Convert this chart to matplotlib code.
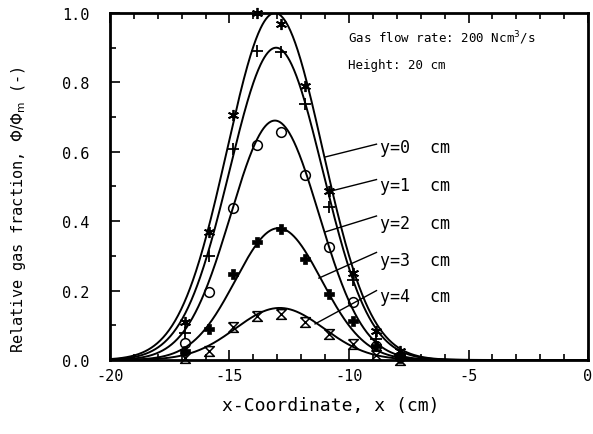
import numpy as np
import matplotlib
matplotlib.use("Agg")
import matplotlib.pyplot as plt
from matplotlib.path import Path
from matplotlib.ticker import MultipleLocator

plt.rcParams['font.family'] = ['DejaVu Sans Mono', 'DejaVu Sans']

# ---- data ----
x_pts = [-16.85, -15.85, -14.85, -13.85, -12.85, -11.85, -10.85, -9.85, -8.85, -7.85]
y0_pts = [0.11, 0.368, 0.707, 1.0, 0.968, 0.79, 0.488, 0.25, 0.085, 0.027]
y1_pts = [0.078, 0.30, 0.608, 0.891, 0.888, 0.738, 0.44, 0.23, 0.06, 0.015]
y2_pts = [0.048, 0.197, 0.437, 0.62, 0.657, 0.533, 0.325, 0.168, 0.04, 0.01]
y3_pts = [0.027, 0.089, 0.248, 0.339, 0.378, 0.291, 0.19, 0.113, 0.04, 0.005]
y4_pts = [0.005, 0.027, 0.094, 0.128, 0.133, 0.11, 0.075, 0.046, 0.015, 0.0]

# fitted curves (Gaussian): peak, centre, width
curve_peak = [1.0, 0.90, 0.69, 0.38, 0.15]
curve_center = [-13.1, -13.05, -13.1, -12.95, -12.9]
curve_width = [2.0, 1.95, 1.85, 1.8, 1.85]

labels = ["y=0  cm", "y=1  cm", "y=2  cm", "y=3  cm", "y=4  cm"]
label_y = [0.614, 0.504, 0.395, 0.288, 0.184]
leader_start_y = [0.622, 0.52, 0.415, 0.31, 0.2]
leader_end_x = [-11.0, -10.92, -11.0, -11.26, -11.42]
leader_end_y = [0.585, 0.484, 0.369, 0.236, 0.104]

# ---- figure ----
fig = plt.figure(figsize=(5.93, 4.35), dpi=100)
ax = fig.add_axes([110/593, 1-361/435, 478/593, 347/435])

hourglass = Path([(-1, 1), (1, 1), (-1, -1), (1, -1), (-1, 1)],
                 [Path.MOVETO, Path.LINETO, Path.LINETO, Path.LINETO, Path.LINETO])

series = [y0_pts, y1_pts, y2_pts, y3_pts, y4_pts]
styles = [
    dict(marker=(6, 2, 0), ms=8, mew=1.3, mfc='none', mec='black'),
    dict(marker='+', ms=8, mew=1.3, mec='black'),
    dict(marker='o', ms=7, mew=1.1, mfc='none', mec='black'),
    dict(marker='P', ms=7, mew=0.5, mfc='black', mec='black'),
    dict(marker=hourglass, ms=7, mew=1.1, mfc='none', mec='black'),
]

xc = np.linspace(-20, 0, 801)
for pk, c, w in zip(curve_peak, curve_center, curve_width):
    ax.plot(xc, pk*np.exp(-0.5*((xc-c)/w)**2), color='black', lw=1.4, clip_on=True)

for ys, st in zip(series, styles):
    ax.plot(x_pts, ys, ls='none', clip_on=False, **st)

for lab, ly, sy, ex, ey in zip(labels, label_y, leader_start_y, leader_end_x, leader_end_y):
    ax.plot([-8.85, ex], [sy, ey], color='black', lw=1.0)
    ax.text(-8.7, ly, lab, fontsize=12, ha='left', va='center')

ax.text(-10.05, 0.93, "Gas flow rate: 200 Ncm$^3$/s", fontsize=9, ha='left', va='center')
ax.text(-10.05, 0.853, "Height: 20 cm", fontsize=9, ha='left', va='center')

ax.set_xlim(-20, 0)
ax.set_ylim(0, 1.0)
ax.xaxis.set_minor_locator(MultipleLocator(1))
ax.yaxis.set_minor_locator(MultipleLocator(0.1))
ax.tick_params(which='both', direction='in', top=True, right=False, width=1.2)
ax.tick_params(which='major', length=7, labelsize=11)
ax.tick_params(which='minor', length=4)
ax.set_xticks([-20, -15, -10, -5, 0])
ax.set_xticklabels(["-20", "-15", "-10", "-5", "0"])
ax.set_yticks([0.0, 0.2, 0.4, 0.6, 0.8, 1.0])
ax.set_yticklabels(["0.0", "0.2", "0.4", "0.6", "0.8", "1.0"])
ax.tick_params(axis='x', which='major', pad=6)
ax.tick_params(axis='y', which='major', pad=15)
for sp in ax.spines.values():
    sp.set_linewidth(2.0)

ax.set_xlabel("x-Coordinate, x (cm)", fontsize=13)
ax.xaxis.set_label_coords(0.462, -0.104)
ax.set_ylabel(r"Relative gas fraction, $\Phi/\Phi_{\rm m}$ (-)", fontsize=11)
ax.yaxis.set_label_coords(-0.172, 0.435)

fig.savefig("out.png", dpi=100)
